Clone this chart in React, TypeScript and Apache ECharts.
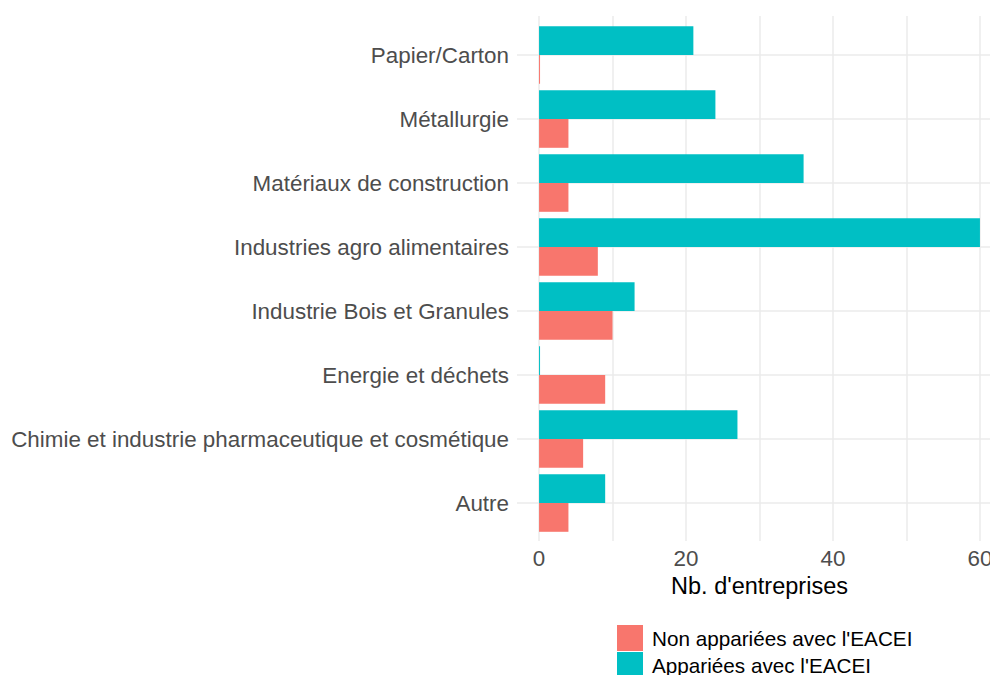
import React, { useEffect, useRef } from "react";
import * as echarts from "echarts";

const categories = [
  "Autre",
  "Chimie et industrie pharmaceutique et cosmétique",
  "Energie et déchets",
  "Industrie Bois et Granules",
  "Industries agro alimentaires",
  "Matériaux de construction",
  "Métallurgie",
  "Papier/Carton",
];
const appariees = [9, 27, 0, 13, 60, 36, 24, 21];
const nonAppariees = [4, 6, 9, 10, 8, 4, 4, 0];
const seriesNames = ["Non appariées avec l'EACEI", "Appariées avec l'EACEI"];
const tickLabels = [0, 20, 40, 60];

const FONT = "'Liberation Sans', Arial, sans-serif";

export default function App() {
  const ref = useRef<HTMLDivElement>(null);
  useEffect(() => {
    if (!ref.current) return;
    const chart = echarts.init(ref.current, null, { renderer: "svg" });
    chart.setOption({
      animation: false,
      backgroundColor: "#ffffff",
      textStyle: { fontFamily: FONT },
      grid: [
        {
          left: 517,
          top: 23,
          right: -12,
          bottom: 140,
          containLabel: false,
          outerBoundsMode: "none",
        },
        {
          left: 517,
          top: 16,
          right: -12,
          bottom: 134,
          containLabel: false,
          outerBoundsMode: "none",
        },
      ],
      legend: {
        orient: "vertical",
        left: 617,
        top: 625,
        height: 150,
        padding: 0,
        itemWidth: 26,
        itemHeight: 26,
        itemGap: 1,
        icon: "rect",
        data: seriesNames,
        textStyle: { fontSize: 20.7, color: "#000", fontFamily: FONT, padding: [0, 0, 0, 4] },
        selectedMode: false,
      },
      xAxis: [
        {
          type: "value",
          gridIndex: 0,
          min: -3,
          max: 63,
          splitNumber: 6,
          name: "Nb. d'entreprises",
          nameLocation: "middle",
          nameGap: 30,
          nameTextStyle: { fontSize: 23.5, color: "#000", fontFamily: FONT },
          axisLine: { show: false },
          axisTick: { show: false },
          axisLabel: {
            fontSize: 22.4,
            color: "#4d4d4d",
            fontFamily: FONT,
            margin: 12,
            showMinLabel: false,
            showMaxLabel: false,
            hideOverlap: false,
            formatter: (v: number) => (tickLabels.includes(v) ? String(v) : ""),
          },
          splitLine: { show: false },
        },
        {
          type: "value",
          gridIndex: 1,
          min: -3,
          max: 63,
          splitNumber: 6,
          axisLine: { show: false },
          axisTick: { show: false },
          axisLabel: { show: false },
          splitLine: {
            show: true,
            showMinLine: false,
            showMaxLine: false,
            lineStyle: { color: "#ebebeb", width: 1.5 },
          },
        },
      ],
      yAxis: [
        {
          type: "category",
          gridIndex: 0,
          data: categories,
          axisLine: { show: false },
          axisTick: { show: false },
          splitLine: { show: false },
          axisLabel: { fontSize: 22.4, color: "#4d4d4d", fontFamily: FONT, margin: 8 },
        },
        {
          type: "value",
          gridIndex: 1,
          min: 0,
          max: 1,
          show: false,
          splitLine: { show: false },
        },
      ],
      series: [
        {
          name: "grid",
          type: "line",
          data: [],
          z: 1,
          silent: true,
          markLine: {
            silent: true,
            symbol: "none",
            z: 1,
            label: { show: false },
            lineStyle: { color: "#ebebeb", width: 1.5, type: "solid" },
            data: categories.map((c) => ({ yAxis: c })),
          },
        },
        {
          name: seriesNames[1],
          type: "bar",
          data: appariees,
          itemStyle: { color: "#00BFC4" },
          barGap: "0%",
          barCategoryGap: "10%",
          barMinHeight: 1,
          z: 3,
        },
        {
          name: seriesNames[0],
          type: "bar",
          data: nonAppariees,
          itemStyle: { color: "#F8766D" },
          barGap: "0%",
          barCategoryGap: "10%",
          barMinHeight: 1,
          z: 3,
        },
      ],
    });
    return () => chart.dispose();
  }, []);
  return (
    <div
      ref={ref}
      style={{ position: "fixed", left: 0, top: 0, width: 990, height: 675 }}
    />
  );
}
